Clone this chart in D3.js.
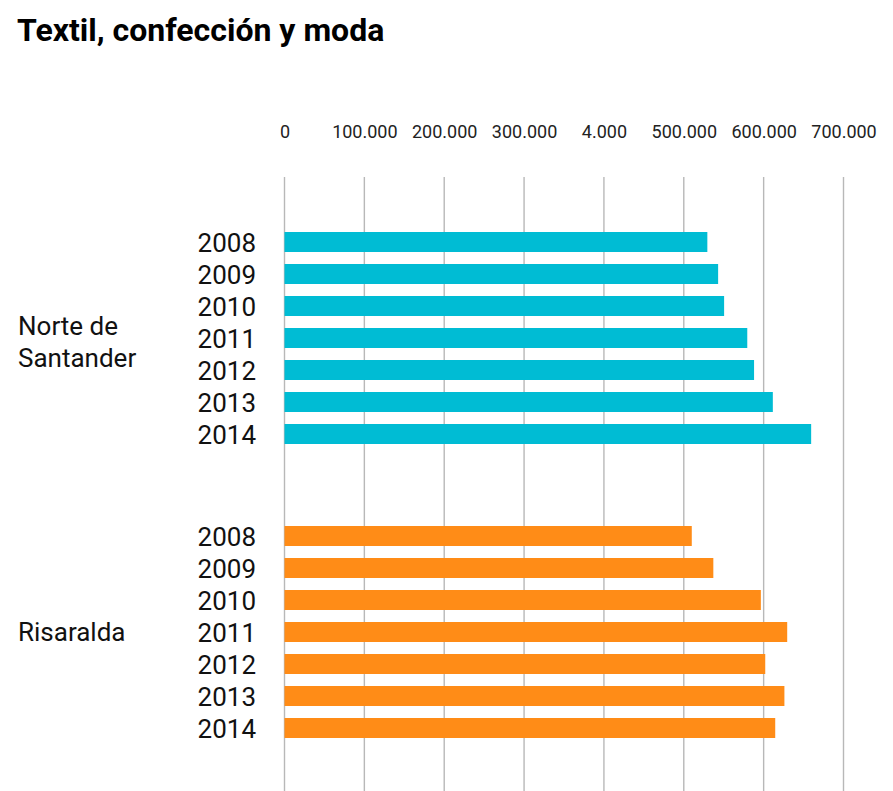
<!DOCTYPE html>
<html>
<head>
<meta charset="utf-8">
<script src="https://cdn.jsdelivr.net/npm/d3@7"></script>
<style>
  html, body { margin: 0; padding: 0; background: #fff; }
  svg { display: block; font-family: Roboto, sans-serif; }
</style>
</head>
<body>
<svg id="chart" width="893" height="791"></svg>
<script>
const title = "Textil, confección y moda";
const groups = ["Norte de Santander", "Risaralda"];
const groupLines = [["Norte de", "Santander"], ["Risaralda"]];
const years = ["2008", "2009", "2010", "2011", "2012", "2013", "2014"];
const norteValues = [529500, 543000, 550500, 579500, 588000, 611500, 659500];
const risaraldaValues = [510000, 537000, 596500, 629500, 602000, 626000, 614500];
const seriesValues = [norteValues, risaraldaValues];
const colors = ["#00BCD4", "#FF8C17"];
const tickValues = [0, 100000, 200000, 300000, 400000, 500000, 600000, 700000];
const tickLabels = ["0", "100.000", "200.000", "300.000", "4.000", "500.000", "600.000", "700.000"];

const svg = d3.select("#chart");

svg.append("text")
  .attr("x", 17).attr("y", 41)
  .attr("font-size", 32).attr("font-weight", "bold").attr("fill", "#000")
  .text(title);

const x = d3.scaleLinear().domain([0, 700000]).range([284.5, 843.5]);

const yGroup = d3.scaleBand().domain(groups).range([226, 744])
  .paddingInner(70 / 294).paddingOuter(0);
const yYear = d3.scaleBand().domain(years).range([0, yGroup.bandwidth()])
  .paddingInner(0.375).paddingOuter(0.1875);

// gridlines
svg.append("g").selectAll("line").data(tickValues).join("line")
  .attr("x1", d => x(d)).attr("x2", d => x(d))
  .attr("y1", 177).attr("y2", 791)
  .attr("stroke", "#b8b8b8").attr("stroke-width", 1.4);

// top axis labels
const axis = d3.axisTop(x).tickValues(tickValues)
  .tickFormat((d, i) => tickLabels[i]).tickSize(0).tickPadding(0);
const ax = svg.append("g").attr("transform", "translate(0,138)").call(axis);
ax.select(".domain").remove();
ax.selectAll("text").attr("font-size", 18).attr("font-family", "Roboto, sans-serif").attr("fill", "#222");

groups.forEach((g, gi) => {
  const gy = yGroup(g);
  const grp = svg.append("g").attr("transform", `translate(0,${gy})`);
  grp.selectAll("rect").data(seriesValues[gi]).join("rect")
    .attr("x", x(0))
    .attr("y", (d, i) => yYear(years[i]))
    .attr("width", d => x(d) - x(0))
    .attr("height", yYear.bandwidth())
    .attr("fill", colors[gi]);
  grp.selectAll("text.yr").data(years).join("text")
    .attr("class", "yr")
    .attr("x", 256)
    .attr("y", d => yYear(d) + yYear.bandwidth() / 2 + 1)
    .attr("dy", "0.35em")
    .attr("text-anchor", "end")
    .attr("font-size", 26).attr("fill", "#111")
    .text(d => d);
  const lines = groupLines[gi];
  const cy = yGroup.bandwidth() / 2 + (lines.length > 1 ? 4 : 0);
  const lh = 32;
  grp.append("g").selectAll("text").data(lines).join("text")
    .attr("x", 18)
    .attr("y", (d, i) => cy + (i - (lines.length - 1) / 2) * lh)
    .attr("dy", "0.35em")
    .attr("font-size", 26).attr("fill", "#111")
    .text(d => d);
});
</script>
</body>
</html>
